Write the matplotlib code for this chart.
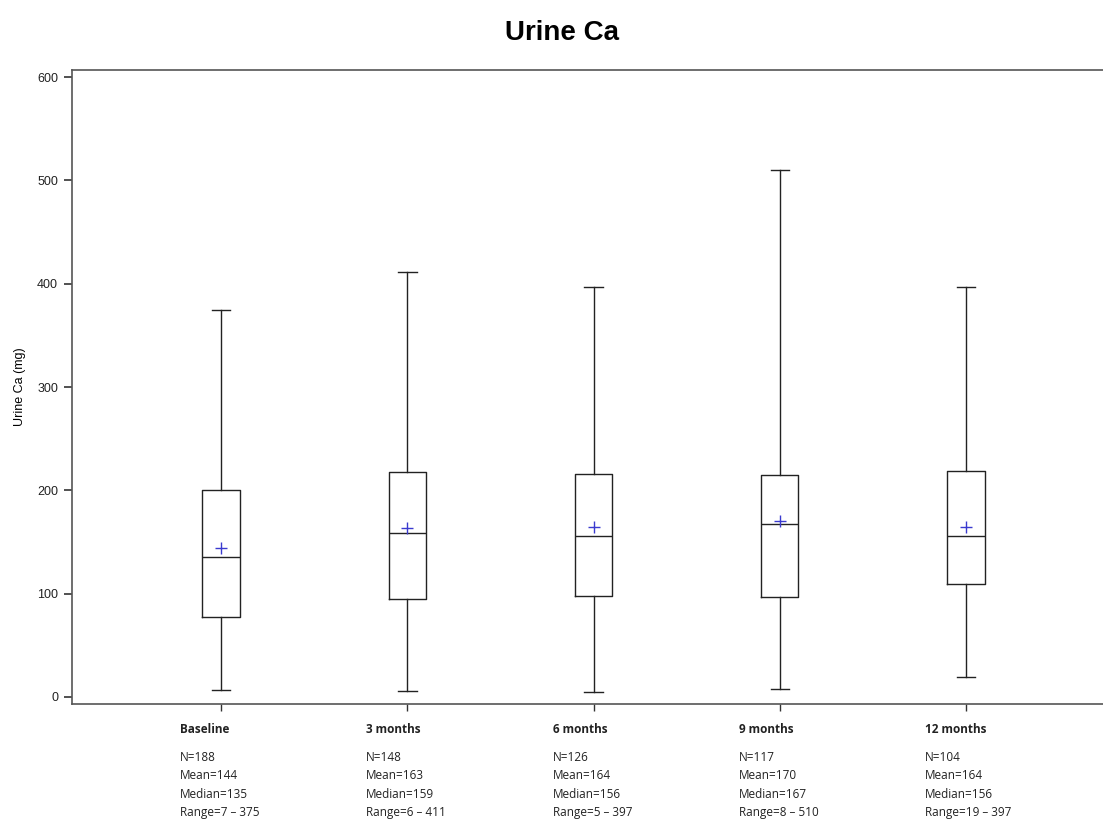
import numpy as np
import matplotlib
matplotlib.use("Agg")
import matplotlib.pyplot as plt

# Data
groups = ["Baseline", "3 months", "6 months", "9 months", "12 months"]
n_obs = [188, 148, 126, 117, 104]
means = [144, 163, 164, 170, 164]
medians = [135, 159, 156, 167, 156]
q1 = [77, 95, 98, 97, 109]
q3 = [200, 218, 216, 215, 219]
mins = [7, 6, 5, 8, 19]
maxs = [375, 411, 397, 510, 397]

pos = np.arange(1, len(groups) + 1)

stats = []
for i in range(len(groups)):
    stats.append({"med": medians[i], "q1": q1[i], "q3": q3[i],
                  "whislo": mins[i], "whishi": maxs[i], "mean": means[i],
                  "fliers": []})

fig = plt.figure(figsize=(11.03, 8.23), dpi=100)
ax = fig.add_axes([72 / 1103, 1 - 704 / 823, 1 - 72 / 1103, (704 - 70) / 823])

line_kw = dict(color="#222222", linewidth=1.0)
ax.bxp(stats, positions=pos, widths=0.2, showmeans=True, showfliers=False,
       boxprops=line_kw, whiskerprops=line_kw, capprops=line_kw,
       medianprops=line_kw, capwidths=0.1,
       meanprops=dict(marker="+", markeredgecolor="#3a3acf", markersize=8,
                      markeredgewidth=1.0, linestyle="none"))

ax.set_xlim(0.2, 5.735)
ax.set_ylim(-7, 607)
ax.set_yticks([0, 100, 200, 300, 400, 500, 600])
ax.set_xticks(pos)
ax.set_xticklabels([])
ax.spines["right"].set_visible(False)
for s in ["left", "bottom", "top"]:
    ax.spines[s].set_color("#555555")
    ax.spines[s].set_linewidth(1.2)
ax.tick_params(axis="y", length=6, width=1.2, color="#333333", labelsize=9,
               labelcolor="#222222", pad=4)
ax.tick_params(axis="x", length=5, width=1.0, color="#333333")
for lab in ax.get_yticklabels():
    lab.set_family("Liberation Sans")

ax.set_ylabel("Urine Ca (mg)", fontsize=9, family="Liberation Sans", labelpad=8)

fig.suptitle("Urine Ca", fontsize=20, fontweight="bold", family="Liberation Sans",
             x=562 / 1103, y=1 - 33 / 823, va="center")

# Summary text under each group
trans = ax.get_xaxis_transform()
for i, p in enumerate(pos):
    x0 = p - 0.22
    ax.text(x0, -0.04, groups[i], transform=trans, fontsize=8.5, fontweight="bold",
            family="Open Sans", ha="left", va="center", color="#222222")
    lines = ["N=%d" % n_obs[i], "Mean=%d" % means[i],
             "Median=%d" % medians[i], "Range=%d \u2013 %d" % (mins[i], maxs[i])]
    for j, t in enumerate(lines):
        ax.text(x0, -0.085 - j * 0.0285, t, transform=trans, fontsize=8.5,
                family="Open Sans", ha="left", va="center", color="#222222")

fig.savefig("out.png", dpi=100)
